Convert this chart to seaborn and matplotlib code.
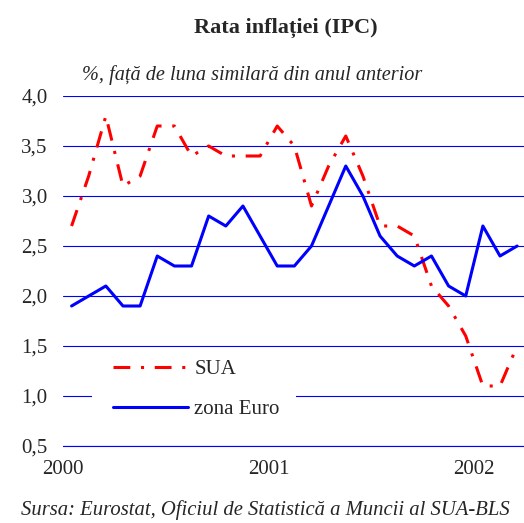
import pandas as pd
import matplotlib.pyplot as plt
import seaborn as sns
from matplotlib.patches import Rectangle

# monthly values, Jan 2000 - Mar 2002
months = list(range(27))
sua = [2.7, 3.2, 3.8, 3.1, 3.2, 3.7, 3.7, 3.4, 3.5, 3.4, 3.4, 3.4,
       3.7, 3.5, 2.9, 3.3, 3.6, 3.2, 2.7, 2.7, 2.6, 2.1, 1.9, 1.6,
       1.1, 1.1, 1.5]
euro = [1.9, 2.0, 2.1, 1.9, 1.9, 2.4, 2.3, 2.3, 2.8, 2.7, 2.9, 2.6,
        2.3, 2.3, 2.5, 2.9, 3.3, 3.0, 2.6, 2.4, 2.3, 2.4, 2.1, 2.0,
        2.7, 2.4, 2.5]
year_labels = ['2000', '2001', '2002']
y_ticks = [0.5, 1.0, 1.5, 2.0, 2.5, 3.0, 3.5, 4.0]

df = pd.DataFrame({'luna': months, 'SUA': sua, 'zona Euro': euro})

sns.set_style('white')
plt.rcParams['font.family'] = ['Liberation Serif', 'DejaVu Serif']

fig = plt.figure(figsize=(5.24, 5.23), dpi=100)
ax = fig.add_axes([63 / 524, 1 - 446 / 523, 461 / 524, 350 / 523])

sns.lineplot(data=df, x='luna', y='SUA', ax=ax, color='#ff0000', lw=2.2,
             linestyle=(0, (5.5, 3.5, 1, 3.5)), label='SUA', zorder=3)
sns.lineplot(data=df, x='luna', y='zona Euro', ax=ax, color='#0000ff', lw=2.2,
             label='zona Euro', zorder=3)

ax.set_xlim(-0.5, 26.4)
ax.set_ylim(0.5, 4.0)
ax.set_yticks(y_ticks)
ax.set_yticklabels([f'{v:.1f}'.replace('.', ',') for v in y_ticks], fontsize=15)
ax.set_xticks([-0.5, 11.5, 23.5])
ax.set_xticklabels(year_labels, fontsize=15)
ax.tick_params(axis='y', length=0, pad=11)
ax.tick_params(axis='x', length=4, width=1, color='#0000ff', direction='out', pad=6)
ax.set_xlabel('')
ax.set_ylabel('')

ax.grid(axis='y', color='#0000ff', lw=0.8)
ax.grid(axis='x', visible=False)
for s in ['left', 'top', 'right']:
    ax.spines[s].set_visible(False)
ax.spines['bottom'].set_color('#0000ff')
ax.spines['bottom'].set_linewidth(0.8)

# white block behind the legend, cutting the 1,0 gridline
ax.add_patch(Rectangle((0.063, 0.114), 0.4425, 0.057, transform=ax.transAxes,
                       facecolor='white', edgecolor='none', zorder=2))
ax.legend(loc='upper left', bbox_to_anchor=(0.1085, 0.246), frameon=False,
          fontsize=15, handlelength=3.6, handletextpad=0.3, labelspacing=0.98,
          borderpad=0, borderaxespad=0)

fig.text(0.546, 0.946, 'Rata inflației (IPC)', ha='center', va='center',
         fontsize=16, fontweight='bold')
fig.text(82 / 524, 0.857, '%, față de luna similară din anul anterior',
         ha='left', va='center', fontsize=14.6, style='italic')
fig.text(0.506, 0.025, 'Sursa: Eurostat, Oficiul de Statistică a Muncii al SUA-BLS',
         ha='center', va='center', fontsize=14.9, style='italic')

plt.savefig('out.png', dpi=100)
